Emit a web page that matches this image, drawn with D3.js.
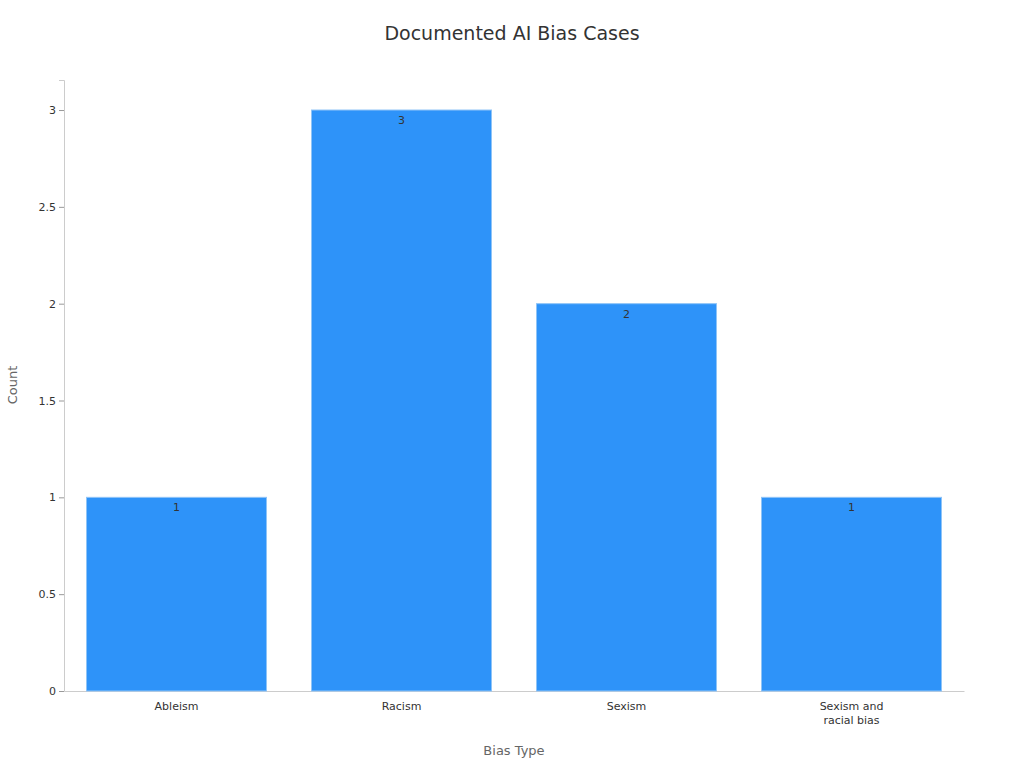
<!DOCTYPE html>
<html><head><meta charset="utf-8">
<script src="https://cdn.jsdelivr.net/npm/d3@7"></script>
<style>body{margin:0;background:#fff;font-family:"DejaVu Sans",sans-serif}</style>
</head><body><svg width="1024" height="768"></svg>
<script>
const categories = ["Ableism", "Racism", "Sexism", "Sexism and racial bias"];
const counts = [1, 3, 2, 1];
const yTicks = [0, 0.5, 1, 1.5, 2, 2.5, 3];

const svg = d3.select("svg");
const m = {l: 64, r: 964, t: 80, b: 691};
const x = d3.scaleBand().domain(categories).range([m.l, m.r]).paddingInner(0.2).paddingOuter(0.1);
const y = d3.scaleLinear().domain([0, 3.155]).range([m.b, m.t]);

svg.append("text").attr("x", 512).attr("y", 40).attr("text-anchor", "middle")
  .attr("font-size", 19).attr("fill", "#333").text("Documented AI Bias Cases");

const ya = svg.append("g").attr("transform", `translate(${m.l},0)`)
  .call(d3.axisLeft(y).tickValues(yTicks).tickSize(5).tickFormat(d3.format("~g")));
ya.select(".domain").attr("stroke", "#ccc");
ya.selectAll(".tick line").attr("stroke", "#999");
ya.selectAll("text").attr("font-size", 11).attr("fill", "#333").attr("font-family", "DejaVu Sans");

const xa = svg.append("g").attr("transform", `translate(0,${m.b})`)
  .call(d3.axisBottom(x).tickSize(0).tickPadding(11));
xa.select(".domain").attr("stroke", "#ccc");
xa.selectAll("text").attr("font-size", 11).attr("fill", "#333").attr("font-family", "DejaVu Sans")
  .each(function(d){
    if (d === "Sexism and racial bias") {
      const t = d3.select(this); t.text(null);
      t.append("tspan").attr("x", 0).attr("dy", "0.71em").text("Sexism and");
      t.append("tspan").attr("x", 0).attr("dy", "1.25em").text("racial bias");
      t.attr("dy", null);
    }
  });

svg.selectAll("rect.bar").data(categories).join("rect").attr("class", "bar")
  .attr("x", d => x(d)).attr("width", x.bandwidth())
  .attr("y", (d, i) => y(counts[i])).attr("height", (d, i) => y(0) - y(counts[i]))
  .attr("fill", "#2e93f9").attr("stroke", "#8fc4f7").attr("stroke-width", 1);

svg.selectAll("text.val").data(categories).join("text").attr("class", "val")
  .attr("x", d => x(d) + x.bandwidth() / 2).attr("y", (d, i) => y(counts[i]) + 14)
  .attr("text-anchor", "middle").attr("font-size", 11).attr("fill", "#333")
  .text((d, i) => counts[i]);

svg.append("text").attr("transform", "translate(17,385) rotate(-90)").attr("text-anchor", "middle")
  .attr("font-size", 13).attr("fill", "#666").text("Count");
svg.append("text").attr("x", 514).attr("y", 755).attr("text-anchor", "middle")
  .attr("font-size", 13).attr("fill", "#666").text("Bias Type");
</script></body></html>
